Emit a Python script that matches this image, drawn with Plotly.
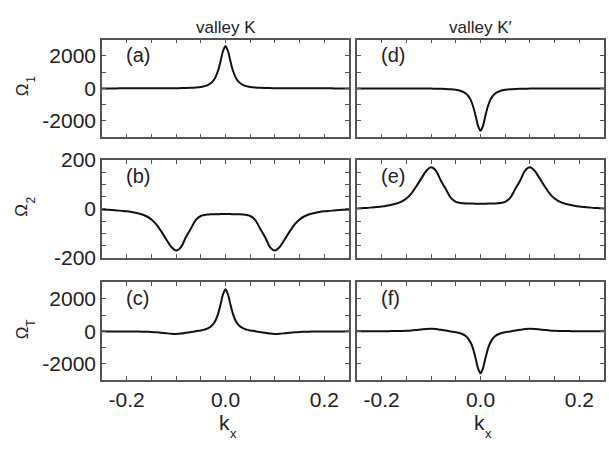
import plotly.graph_objects as go

# ---- data ----
K_X = [-0.25, -0.24, -0.23, -0.22, -0.21, -0.20, -0.19, -0.18, -0.17, -0.16,
       -0.15, -0.14, -0.13, -0.12, -0.11, -0.10, -0.09, -0.08, -0.07, -0.06,
       -0.05, -0.045, -0.04, -0.035, -0.03, -0.025, -0.02, -0.015, -0.01, -0.005,
       0.0,
       0.005, 0.01, 0.015, 0.02, 0.025, 0.03, 0.035, 0.04, 0.045, 0.05,
       0.06, 0.07, 0.08, 0.09, 0.10, 0.11, 0.12, 0.13, 0.14, 0.15,
       0.16, 0.17, 0.18, 0.19, 0.20, 0.21, 0.22, 0.23, 0.24, 0.25]

OMEGA1_K = [1, 1, 1, 1, 2, 2, 2, 2, 3, 3, 4, 5, 6, 7, 9, 12, 17, 23, 34, 53, 87,
            115, 156, 217, 312, 462, 706, 1096, 1665, 2296,
            2600,
            2296, 1665, 1096, 706, 462, 312, 217, 156, 115,
            87, 53, 34, 23, 17, 12, 9, 7, 6, 5, 4, 3, 3, 2, 2, 2, 2, 1, 1, 1, 1]

OMEGA1_KP = [-1, -1, -1, -1, -2, -2, -2, -2, -3, -3, -4, -5, -6, -7, -9, -12, -17, -23, -34, -53, -87,
             -115, -156, -217, -312, -462, -706, -1096, -1665, -2296,
             -2600,
             -2296, -1665, -1096, -706, -462, -312, -217, -156, -115,
             -87, -53, -34, -23, -17, -12, -9, -7, -6, -5, -4, -3, -3, -2, -2, -2, -2, -1, -1, -1, -1]

OMEGA2_K = [-2, -3, -4, -6, -8, -10, -13, -17, -22, -30, -43, -63, -92, -124, -155, -170, -156, -115, -80, -45, -29,
            -26, -24, -23, -22, -22, -22, -22, -21, -21,
            -21,
            -21, -21, -22, -22, -22, -22, -23, -24, -26,
            -29, -45, -80, -115, -156, -170, -155, -124, -92, -63, -43, -30, -22, -17, -13, -10, -8, -6, -4, -3, -2]

OMEGA2_KP = [2, 3, 4, 6, 8, 10, 13, 17, 22, 30, 43, 63, 92, 124, 155, 170, 156, 115, 80, 45, 29,
             26, 24, 23, 22, 22, 22, 22, 21, 21,
             21,
             21, 21, 22, 22, 22, 22, 23, 24, 26,
             29, 45, 80, 115, 156, 170, 155, 124, 92, 63, 43, 30, 22, 17, 13, 10, 8, 6, 4, 3, 2]

OMEGAT_K = [-1, -2, -3, -5, -6, -8, -11, -15, -19, -27, -39, -58, -86, -117, -146, -158, -139, -92, -46, 8, 58,
            89, 132, 194, 290, 440, 684, 1074, 1644, 2275,
            2579,
            2275, 1644, 1074, 684, 440, 290, 194, 132, 89,
            58, 8, -46, -92, -139, -158, -146, -117, -86, -58, -39, -27, -19, -15, -11, -8, -6, -5, -3, -2, -1]

OMEGAT_KP = [1, 2, 3, 5, 6, 8, 11, 15, 19, 27, 39, 58, 86, 117, 146, 158, 139, 92, 46, -8, -58,
             -89, -132, -194, -290, -440, -684, -1074, -1644, -2275,
             -2579,
             -2275, -1644, -1074, -684, -440, -290, -194, -132, -89,
             -58, -8, 46, 92, 139, 158, 146, 117, 86, 58, 39, 27, 19, 15, 11, 8, 6, 5, 3, 2, 1]

X_TICKS = [-0.2, 0.0, 0.2]
X_TICK_TEXT = ["-0.2", "0.0", "0.2"]
Y_BIG_TICKS = [-2000, 0, 2000]
Y_BIG_TEXT = ["-2000", "0", "2000"]
Y_SMALL_TICKS = [-200, 0, 200]
Y_SMALL_TEXT = ["-200", "0", "200"]

PANEL_LABELS = ["(a)", "(d)", "(b)", "(e)", "(c)", "(f)"]
COLUMN_TITLES = ["valley K", "valley K\u2032"]
ROW_SYMBOL = "\u03a9"
ROW_SUBSCRIPTS = ["1", "2", "T"]
X_SYMBOL = "k"
X_SUBSCRIPT = "x"

series = [OMEGA1_K, OMEGA1_KP, OMEGA2_K, OMEGA2_KP, OMEGAT_K, OMEGAT_KP]

W, H = 609, 451
FONT = "Liberation Sans, Arial, sans-serif"
FRAME = "#555555"
TXT = "#222222"

x_domains = [[102 / W, 349 / W], [357 / W, 604 / W]]
rows_px = [(29, 132), (156, 259), (285, 388)]
y_domains = [[(H - b) / H, (H - t) / H] for t, b in rows_px]

fig = go.Figure()
layout = dict(width=W, height=H, margin=dict(l=0, r=0, t=0, b=0),
              paper_bgcolor="white", plot_bgcolor="white", showlegend=False,
              font=dict(family=FONT, color=TXT))

annotations = []
for i, ys in enumerate(series):
    r, c = divmod(i, 2)
    n = i + 1
    xa = "x" if n == 1 else f"x{n}"
    ya = "y" if n == 1 else f"y{n}"
    fig.add_trace(go.Scatter(x=K_X, y=ys, mode="lines", xaxis=xa, yaxis=ya,
                             line=dict(color="#111111", width=2, shape="spline", smoothing=0.7),
                             hoverinfo="skip"))
    big = r != 1
    common = dict(showline=True, mirror="ticks", linecolor=FRAME, linewidth=1.5,
                  ticks="inside", ticklen=4, tickcolor=FRAME, tickwidth=1,
                  showgrid=False, zeroline=False,
                  tickfont=dict(family=FONT, size=21, color=TXT))
    layout["xaxis" if n == 1 else f"xaxis{n}"] = dict(
        domain=x_domains[c], anchor=ya, range=[-0.25, 0.25],
        tickmode="array", tickvals=X_TICKS, ticktext=X_TICK_TEXT,
        minor=dict(ticks="inside", ticklen=4, tickcolor=FRAME, tickwidth=1,
                   tick0=0, dtick=0.05, showgrid=False),
        showticklabels=(r == 2), ticklabelstandoff=0, **common)
    layout["yaxis" if n == 1 else f"yaxis{n}"] = dict(
        domain=y_domains[r], anchor=xa,
        range=[-3000, 3000] if big else [-200, 200],
        tickmode="array",
        tickvals=Y_BIG_TICKS if big else Y_SMALL_TICKS,
        ticktext=Y_BIG_TEXT if big else Y_SMALL_TEXT,
        minor=dict(ticks="inside", ticklen=4, tickcolor=FRAME, tickwidth=1,
                   tick0=0, dtick=1000 if big else 50, showgrid=False),
        showticklabels=(c == 0), **common)
    annotations.append(dict(text=PANEL_LABELS[i], xref=f"{xa} domain", yref=f"{ya} domain",
                            x=0.09, y=0.84, xanchor="left", yanchor="middle", showarrow=False,
                            font=dict(family=FONT, size=20, color=TXT)))

def px_ann(text, x, y, size, angle=0):
    return dict(text=text, xref="paper", yref="paper", textangle=angle,
                x=x / W, y=(H - y) / H, xanchor="center", yanchor="middle",
                showarrow=False, font=dict(family=FONT, size=size, color=TXT))

# column titles
for c, t in enumerate(COLUMN_TITLES):
    cx = (x_domains[c][0] + x_domains[c][1]) / 2 * W
    annotations.append(px_ann(t, cx, 16, 17))
# row titles (symbol + subscript)
for r, sub in enumerate(ROW_SUBSCRIPTS):
    t, b = rows_px[r]
    cy = (t + b) / 2
    annotations.append(px_ann(ROW_SYMBOL, 22, cy + 2, 17, -90))
    annotations.append(px_ann(sub, 31, cy - 9, 12, -90))
# x titles (symbol + subscript)
for c in range(2):
    cx = (x_domains[c][0] + x_domains[c][1]) / 2 * W
    annotations.append(px_ann(X_SYMBOL, cx - 1, 433, 21))
    annotations.append(px_ann(X_SUBSCRIPT, cx + 8, 444, 13))

layout["annotations"] = annotations
fig.update_layout(**layout)
fig.write_html("out.html")
